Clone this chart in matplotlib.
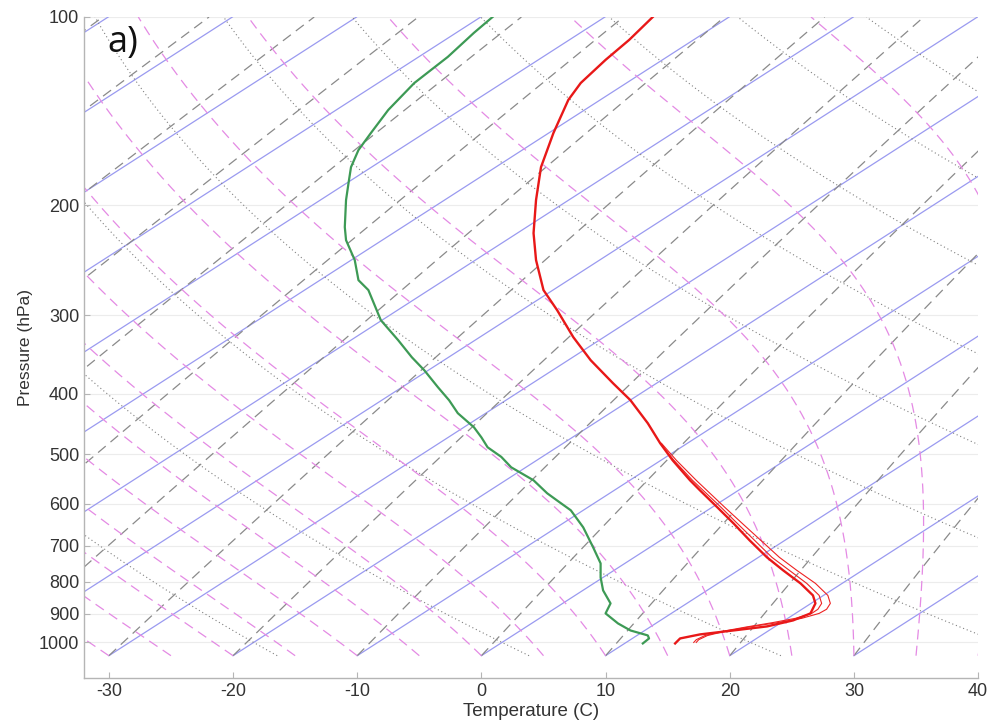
import numpy as np
import matplotlib
matplotlib.use('Agg')
import matplotlib.pyplot as plt

# skew-T setup: x shown = T + SKEW*ln(P0/p)
P0 = 1050.0
SKEW = 34.0

# sounding as (pressure hPa, skewed temperature axis value C)
p_temp = [100.0, 108.8, 117.1, 127.5, 135.7, 153.3, 173.8, 196.2, 221.6, 244.7,
          273.3, 294.3, 325.0, 353.8, 385.1, 409.9, 446.2, 480.4, 511.4, 550.5,
          571.2, 608.1, 645.0, 686.7, 731.1, 766.9, 804.6, 841.0, 866.1, 898.6,
          922.1, 942.7, 956.8, 970.9, 985.4, 1003.7]
t_temp = [13.8, 11.9, 10.0, 8.0, 7.0, 5.8, 4.8, 4.4, 4.2, 4.4,
          5.0, 6.1, 7.4, 8.8, 10.6, 12.0, 13.4, 14.4, 15.4, 16.8,
          17.6, 19.0, 20.3, 21.6, 23.0, 24.3, 25.7, 26.7, 26.9, 26.5,
          25.1, 23.0, 20.3, 17.6, 16.0, 15.6]

# the two thin red profiles only leave the thick one below ~470 hPa
p_thin = [480.4, 511.4, 550.5, 608.1, 645.0, 686.7, 731.1, 766.9, 804.6, 841.0,
          866.1, 885.0, 898.6, 915.0, 930.0, 945.0, 960.0, 975.0, 990.0, 1000.0]
t_thin_a = [14.4, 15.5, 17.0, 19.3, 20.6, 22.0, 23.4, 24.8, 26.2, 27.2,
            27.4, 27.1, 26.6, 25.3, 23.4, 21.3, 19.4, 18.0, 17.3, 17.1]
t_thin_b = [14.5, 15.7, 17.3, 19.6, 21.0, 22.5, 24.0, 25.4, 26.9, 27.9,
            28.1, 27.8, 27.2, 25.8, 23.8, 21.5, 19.6, 18.2, 17.5, 17.3]

p_dew = [100.0, 106.0, 115.8, 127.5, 140.8, 153.3, 163.2, 173.8, 184.3, 196.2,
         216.7, 227.4, 244.7, 263.5, 273.3, 305.3, 328.7, 350.0, 367.1, 390.8,
         410.0, 430.0, 452.9, 470.0, 487.5, 505.0, 524.8, 550.5, 577.5, 595.0,
         614.8, 654.6, 704.7, 747.5, 787.0, 825.6, 866.1, 898.6, 932.4, 956.8,
         974.5, 985.4, 1003.7]
t_dew = [0.9, -0.6, -2.7, -5.4, -7.5, -8.9, -9.9, -10.5, -10.7, -10.9,
         -11.0, -10.9, -10.2, -9.9, -9.1, -8.1, -6.7, -5.6, -4.6, -3.5,
         -2.6, -1.9, -0.6, 0.0, 0.5, 1.6, 2.4, 4.2, 5.3, 6.2,
         7.2, 8.2, 9.0, 9.6, 9.6, 9.8, 10.4, 10.0, 11.0, 12.0,
         13.4, 13.5, 13.0]

# background line families (temperatures at P0, or theta at 1000 hPa)
isotherm_t0 = np.arange(-110, 40, 10)
mixing_t0 = np.arange(-110, 40, 10)
dry_theta = np.arange(-20, 200, 20)
moist_t0 = np.arange(-30, 45, 5)

x_ticks = [-30, -20, -10, 0, 10, 20, 30, 40]
p_ticks = [100, 200, 300, 400, 500, 600, 700, 800, 900, 1000]


def skew_x(t, p):
    return np.asarray(t) + SKEW * np.log(P0 / np.asarray(p))


def sat_vp(tc):
    return 6.112 * np.exp(17.67 * tc / (tc + 243.5))


def dewpoint(e):
    a = np.log(e / 6.112)
    return 243.5 * a / (17.67 - a)


def dtdp_moist(T, p):
    Rd, Lv, Cp, eps = 287.04, 2.501e6, 1005.7, 0.622
    es = sat_vp(T - 273.15)
    rs = 0.78 * eps * es / (p - es)  # damped to follow the reference curves
    return (Rd * T + Lv * rs) / (Cp + Lv * Lv * rs * eps / (Rd * T * T)) / p


p_bg = np.logspace(np.log10(P0), 2, 300)

fig = plt.figure(figsize=(9.92, 7.23), dpi=100)
ax = fig.add_axes([0.0847, 0.0622, 0.9013, 0.9143])
ax.set_yscale('log')

for p in p_ticks:
    ax.axhline(p, color='#ececec', lw=0.8, zorder=0)

for t0 in isotherm_t0:
    ax.plot(skew_x(t0, p_bg), p_bg, color='#9a9af0', lw=0.9, zorder=1)

for t0 in mixing_t0:
    es0 = sat_vp(t0)
    w = 0.622 * es0 / (P0 - es0)
    td = dewpoint(w * p_bg / (0.622 + w))
    ax.plot(skew_x(td, p_bg), p_bg, color='#8a8a8a', lw=0.9, ls=(0, (8, 5)), zorder=1)

for th in dry_theta:
    t = (th + 273.15) * (p_bg / 1000.0) ** 0.286 - 273.15
    ax.plot(skew_x(t, p_bg), p_bg, color='#808080', lw=0.8, ls=(0, (1, 2.5)), zorder=1)

for t0 in moist_t0:
    T = np.empty_like(p_bg)
    T[0] = t0 + 273.15
    for i in range(1, len(p_bg)):
        dp = p_bg[i] - p_bg[i - 1]
        k1 = dtdp_moist(T[i - 1], p_bg[i - 1])
        k2 = dtdp_moist(T[i - 1] + 0.5 * k1 * dp, p_bg[i - 1] + 0.5 * dp)
        T[i] = T[i - 1] + k2 * dp
    ax.plot(skew_x(T - 273.15, p_bg), p_bg, color='#e48ae4', lw=0.9, ls=(0, (8, 5)), zorder=1)

# sounding (values already on the skewed axis)
ax.plot(t_thin_b, p_thin, color='#ee2222', lw=0.8, zorder=3)
ax.plot(t_thin_a, p_thin, color='#ee2222', lw=0.8, zorder=3)
ax.plot(t_temp, p_temp, color='#e81818', lw=1.7, zorder=4)
ax.plot(t_dew, p_dew, color='#3d9a55', lw=1.6, zorder=4)

ax.set_xlim(-32, 40)
ax.set_ylim(1140, 100)
ax.set_xticks(x_ticks)
ax.set_xticklabels([str(v) for v in x_ticks])
ax.set_yticks(p_ticks)
ax.set_yticklabels([str(v) for v in p_ticks])
ax.minorticks_off()

for s in ['top', 'right']:
    ax.spines[s].set_visible(False)
for s in ['left', 'bottom']:
    ax.spines[s].set_color('#b5b5b5')
    ax.spines[s].set_linewidth(1.0)
ax.tick_params(direction='in', length=4, color='#b5b5b5', labelcolor='#333333',
               labelsize=13)
for lab in ax.get_xticklabels() + ax.get_yticklabels():
    lab.set_family('Liberation Sans')

ax.set_xlabel('Temperature (C)', fontsize=13.5, family='Liberation Sans',
              color='#333333', labelpad=2)
ax.set_ylabel('Pressure (hPa)', fontsize=12.5, family='Liberation Sans',
              color='#333333', labelpad=4)
ax.text(0.026, 0.961, 'a)', transform=ax.transAxes, fontsize=26,
        family='Open Sans', va='center', ha='left', color='#111111')

fig.savefig('out.png', dpi=100)
